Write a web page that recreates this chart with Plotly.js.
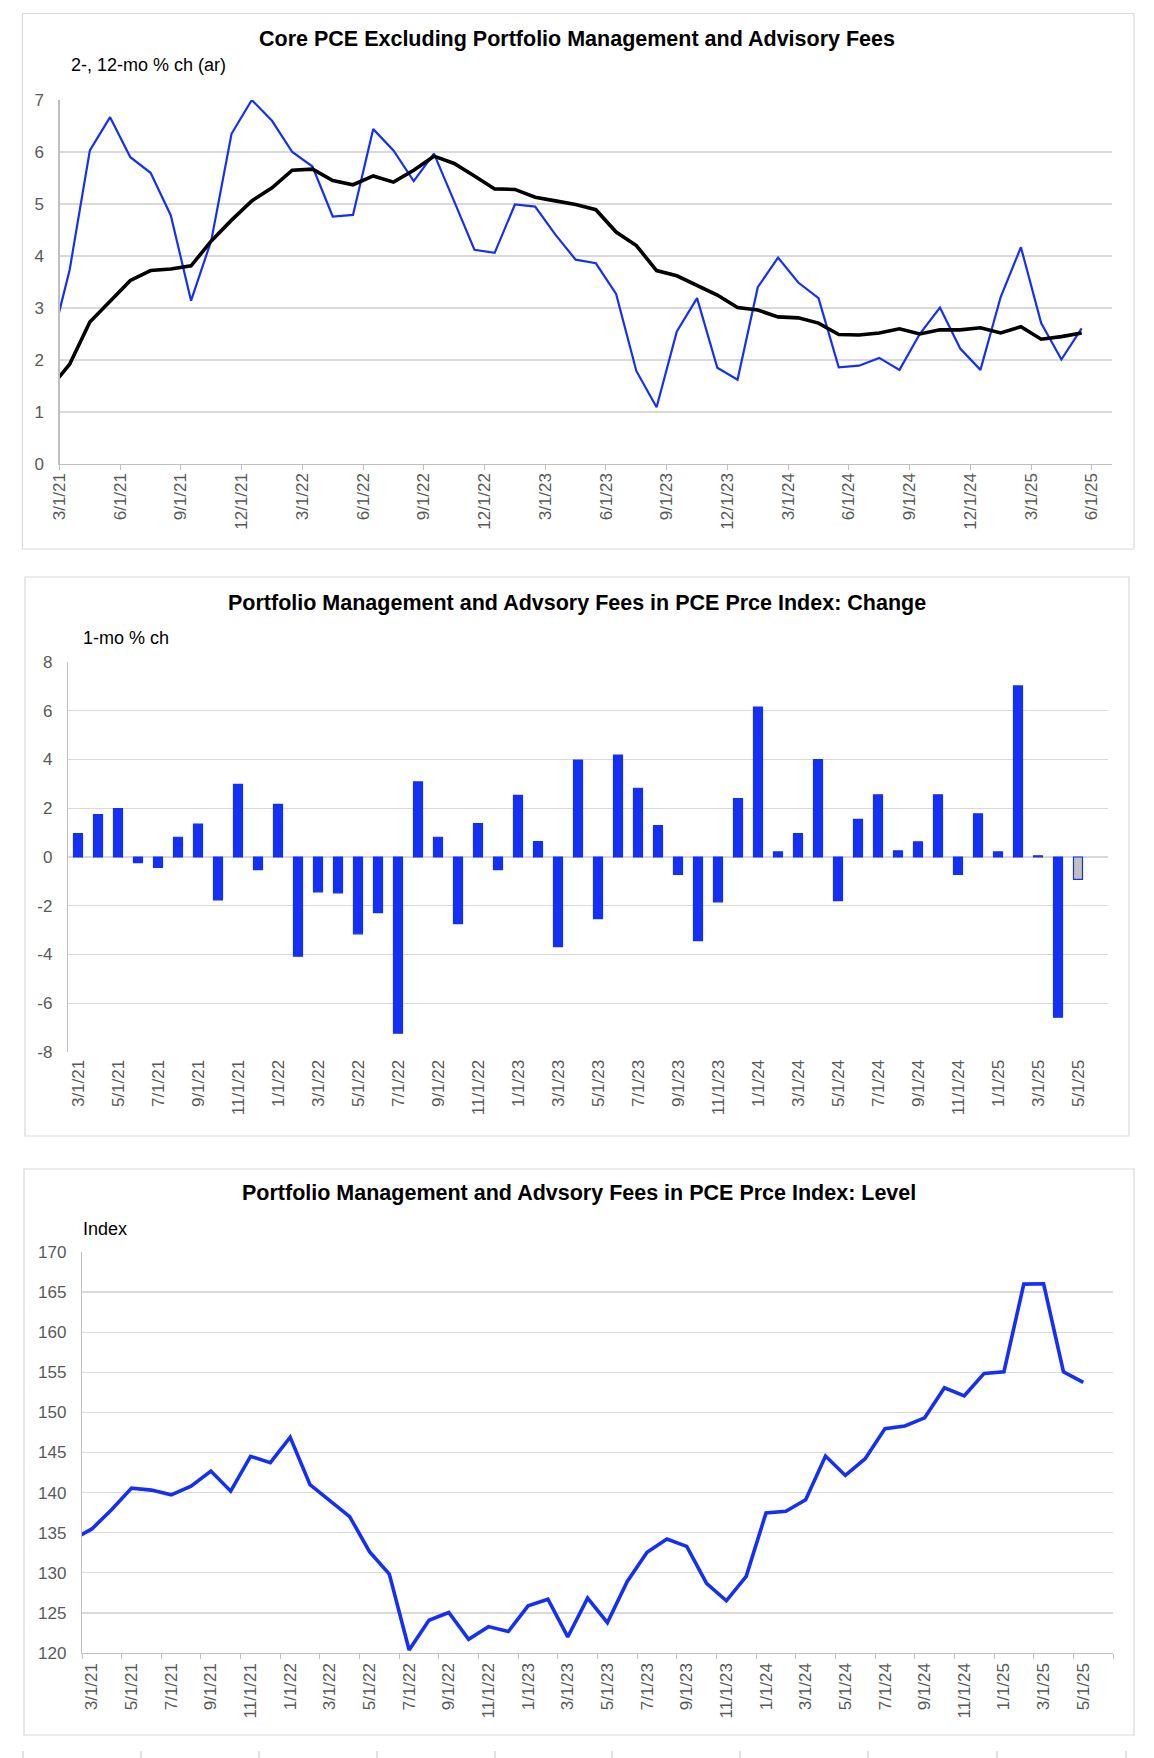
<!DOCTYPE html>
<html>
<head>
<meta charset="utf-8">
<script src="https://cdn.plot.ly/plotly-3.0.1.min.js"></script>
<style>
  body { margin: 0; background: #fff; }
  #chart { width: 1154px; height: 1758px; }
</style>
</head>
<body>
<div id="chart"></div>
<script>
// months, 2/1/21 .. 5/1/25 (feb 21 only feeds the clipped start of the lines)
var months = ['2/1/21','3/1/21','4/1/21','5/1/21','6/1/21','7/1/21','8/1/21','9/1/21','10/1/21','11/1/21','12/1/21',
  '1/1/22','2/1/22','3/1/22','4/1/22','5/1/22','6/1/22','7/1/22','8/1/22','9/1/22','10/1/22','11/1/22','12/1/22',
  '1/1/23','2/1/23','3/1/23','4/1/23','5/1/23','6/1/23','7/1/23','8/1/23','9/1/23','10/1/23','11/1/23','12/1/23',
  '1/1/24','2/1/24','3/1/24','4/1/24','5/1/24','6/1/24','7/1/24','8/1/24','9/1/24','10/1/24','11/1/24','12/1/24',
  '1/1/25','2/1/25','3/1/25','4/1/25','5/1/25'];

// top chart tick labels (quarter starts)
var quarterLabels = ['3/1/21','6/1/21','9/1/21','12/1/21','3/1/22','6/1/22','9/1/22','12/1/22','3/1/23','6/1/23',
  '9/1/23','12/1/23','3/1/24','6/1/24','9/1/24','12/1/24','3/1/25','6/1/25'];

// middle chart y ticks (plain hyphen, as in excel)
var changeTicks = [-8, -6, -4, -2, 0, 2, 4, 6, 8];
var changeTickText = ['-8', '-6', '-4', '-2', '0', '2', '4', '6', '8'];

// core pce ex portfolio mgmt, 2-mo % ch (ar)
var core2mo = [2.17, 3.73, 6.03, 6.67, 5.90, 5.60, 4.78, 3.14, 4.30, 6.35, 7.00,
  6.60, 6.00, 5.72, 4.76, 4.79, 6.44, 6.03, 5.44, 5.97, 5.05, 4.12, 4.06,
  4.99, 4.95, 4.41, 3.93, 3.86, 3.27, 1.79, 1.09, 2.55, 3.19, 1.85, 1.62,
  3.40, 3.97, 3.49, 3.19, 1.86, 1.89, 2.04, 1.81, 2.50, 3.01, 2.22, 1.81,
  3.21, 4.17, 2.71, 2.01, 2.61];

// core pce ex portfolio mgmt, 12-mo % ch
var core12mo = [1.44, 1.92, 2.73, 3.14, 3.53, 3.72, 3.75, 3.81, 4.29, 4.69, 5.06,
  5.31, 5.65, 5.67, 5.45, 5.37, 5.54, 5.42, 5.65, 5.92, 5.78, 5.54, 5.29,
  5.28, 5.13, 5.06, 4.99, 4.89, 4.46, 4.20, 3.72, 3.62, 3.43, 3.25, 3.01,
  2.96, 2.83, 2.81, 2.71, 2.49, 2.48, 2.52, 2.60, 2.50, 2.58, 2.58, 2.62,
  2.52, 2.64, 2.40, 2.45, 2.52];

// portfolio mgmt & advisory fees, 1-mo % ch
var feesChange = [null, 0.96, 1.74, 1.99, -0.23, -0.43, 0.81, 1.35, -1.76, 2.98, -0.52,
  2.16, -4.07, -1.43, -1.47, -3.15, -2.28, -7.23, 3.08, 0.81, -2.73, 1.37, -0.52,
  2.53, 0.63, -3.68, 3.98, -2.53, 4.18, 2.82, 1.29, -0.71, -3.43, -1.84, 2.40,
  6.15, 0.21, 0.96, 4.00, -1.79, 1.54, 2.55, 0.25, 0.62, 2.55, -0.71, 1.77,
  0.21, 7.02, 0.05, -6.57, -0.92];

// portfolio mgmt & advisory fees, index level
var feesLevel = [134.10, 135.47, 137.89, 140.56, 140.31, 139.72, 140.81, 142.69, 140.18, 144.52, 143.73,
  146.90, 140.98, 138.93, 137.01, 132.64, 129.84, 120.38, 124.09, 125.05, 121.71, 123.29, 122.67,
  125.88, 126.71, 122.00, 126.84, 123.79, 128.92, 132.55, 134.22, 133.30, 128.67, 126.51, 129.55,
  137.47, 137.68, 139.10, 144.56, 142.14, 144.23, 147.98, 148.31, 149.32, 153.07, 152.07, 154.86,
  155.07, 166.00, 166.04, 155.07, 153.74];

var W = 1154, H = 1758;
function px(x) { return x / W; }
function py(y) { return 1 - y / H; }

var BLUE = '#1530f5';
var GRID = '#d9d9d9';
var AXIS = '#bfbfbf';
var TICKFONT = { family: 'Liberation Sans, Arial, sans-serif', size: 17, color: '#595959' };

var idx = months.map(function (m, i) { return i; });
var xRange = [0.5, idx.length + 0.5];

// every other month labelled on the lower two charts, starting 3/1/21
var oddIdx = idx.filter(function (i) { return i % 2 === 1; });
var oddText = oddIdx.map(function (i) { return months[i]; });
var bounds = oddIdx.map(function (i) { return i - 0.5; }).concat([idx.length + 0.5]);
var quarterVals = quarterLabels.map(function (q, k) { return 0.5 + 3 * k; });

var barColors = feesChange.map(function (v, i) { return i === feesChange.length - 1 ? '#c0c0c0' : BLUE; });

var data = [
  { x: idx, y: core2mo, type: 'scatter', mode: 'lines', xaxis: 'x', yaxis: 'y',
    line: { color: BLUE, width: 2.2 } },
  { x: idx, y: core12mo, type: 'scatter', mode: 'lines', xaxis: 'x', yaxis: 'y',
    line: { color: '#000000', width: 3.6 } },
  { x: idx, y: feesChange, type: 'bar', xaxis: 'x2', yaxis: 'y2', width: 0.45,
    marker: { color: barColors, line: { color: BLUE, width: 1.2 } } },
  { x: idx, y: feesLevel, type: 'scatter', mode: 'lines', xaxis: 'x3', yaxis: 'y3',
    line: { color: BLUE, width: 3.6 } }
];

function yax(anchor, dom, range, dtick) {
  return {
    anchor: anchor, domain: dom, range: range, dtick: dtick, tick0: range[0], fixedrange: true,
    showgrid: true, gridcolor: GRID, gridwidth: 1.2, zeroline: false,
    showline: true, linecolor: AXIS, linewidth: 1.2,
    ticks: 'outside', ticklen: 11, tickcolor: 'rgba(0,0,0,0)',
    tickfont: TICKFONT
  };
}

var zeroPos = py((662 + 1052) / 2);

var yaxis2 = yax('x2', [py(1052), py(662)], [-8, 8], 2);
yaxis2.tickmode = 'array';
yaxis2.tickvals = changeTicks;
yaxis2.ticktext = changeTickText;

var layout = {
  width: W, height: H,
  margin: { l: 0, r: 0, t: 0, b: 0 },
  paper_bgcolor: '#ffffff', plot_bgcolor: '#ffffff',
  showlegend: false, hovermode: false,
  font: { family: 'Liberation Sans, Arial, sans-serif', color: '#000' },

  xaxis: {
    domain: [px(59.5), px(1112)], range: xRange, anchor: 'y',
    tickmode: 'array', tickvals: quarterVals, ticktext: quarterLabels,
    tickangle: -90, ticks: 'outside', ticklen: 5, tickcolor: AXIS, ticklabelstandoff: -4,
    showgrid: false, zeroline: false, showline: true, linecolor: AXIS, linewidth: 1.2,
    tickfont: TICKFONT
  },
  yaxis: yax('x', [py(464), py(100)], [0, 7], 1),

  xaxis2: {
    domain: [px(68), px(1108)], range: xRange, anchor: 'y2',
    tickmode: 'array', tickvals: oddIdx, ticktext: oddText,
    tickangle: -90, ticks: 'outside', ticklen: 3, tickcolor: 'rgba(0,0,0,0)', ticklabelstandoff: -3,
    showgrid: false, zeroline: false, showline: false,
    tickfont: TICKFONT
  },
  xaxis4: {
    overlaying: 'x2', anchor: 'free', position: zeroPos, range: xRange,
    tickmode: 'array', tickvals: bounds, ticks: 'outside', ticklen: 5, tickcolor: AXIS,
    showticklabels: false, showgrid: false, zeroline: false,
    showline: true, linecolor: GRID, linewidth: 1.5
  },
  yaxis2: yaxis2,

  xaxis3: {
    domain: [px(82), px(1113)], range: xRange, anchor: 'y3',
    tickmode: 'array', tickvals: oddIdx, ticktext: oddText,
    tickangle: -90, ticks: 'outside', ticklen: 5, tickcolor: 'rgba(0,0,0,0)', ticklabelstandoff: -3,
    minor: { tickmode: 'array', tickvals: bounds, ticks: 'outside', ticklen: 5, tickcolor: AXIS, showgrid: false },
    showgrid: false, zeroline: false, showline: true, linecolor: AXIS, linewidth: 1.2,
    tickfont: TICKFONT
  },
  yaxis3: yax('x3', [py(1653), py(1252)], [120, 170], 5),

  annotations: [
    { text: '<b>Core PCE Excluding Portfolio Management and Advisory Fees</b>', x: px(577), y: py(39.5),
      xref: 'paper', yref: 'paper', xanchor: 'center', yanchor: 'middle', showarrow: false,
      font: { size: 21.5, color: '#000' } },
    { text: '2-, 12-mo % ch (ar)', x: px(69), y: py(65), xref: 'paper', yref: 'paper',
      xanchor: 'left', yanchor: 'middle', showarrow: false, font: { size: 18, color: '#000' } },
    { text: '<b>Portfolio Management and Advsory Fees in PCE Prce Index: Change</b>', x: px(577), y: py(603),
      xref: 'paper', yref: 'paper', xanchor: 'center', yanchor: 'middle', showarrow: false,
      font: { size: 21.5, color: '#000' } },
    { text: '1-mo % ch', x: px(81), y: py(638), xref: 'paper', yref: 'paper',
      xanchor: 'left', yanchor: 'middle', showarrow: false, font: { size: 18, color: '#000' } },
    { text: '<b>Portfolio Management and Advsory Fees in PCE Prce Index: Level</b>', x: px(579), y: py(1193),
      xref: 'paper', yref: 'paper', xanchor: 'center', yanchor: 'middle', showarrow: false,
      font: { size: 21.5, color: '#000' } },
    { text: 'Index', x: px(81), y: py(1229), xref: 'paper', yref: 'paper',
      xanchor: 'left', yanchor: 'middle', showarrow: false, font: { size: 18, color: '#000' } }
  ],

  shapes: [
    { type: 'rect', xref: 'paper', yref: 'paper', x0: px(22.5), x1: px(1134), y0: py(549), y1: py(13.5),
      line: { color: GRID, width: 1.2 } },
    { type: 'rect', xref: 'paper', yref: 'paper', x0: px(25), x1: px(1129), y0: py(1136), y1: py(577),
      line: { color: GRID, width: 1.2 } },
    { type: 'rect', xref: 'paper', yref: 'paper', x0: px(24), x1: px(1134), y0: py(1735), y1: py(1169),
      line: { color: GRID, width: 1.2 } }
  ]
};

// top edge of the next (cut off) panel: short separators at the very bottom
[23, 141, 259, 377, 495, 612, 740, 868, 997, 1126].forEach(function (x) {
  layout.shapes.push({ type: 'line', xref: 'paper', yref: 'paper', x0: px(x), x1: px(x), y0: py(1758), y1: py(1751),
    line: { color: GRID, width: 1.5 } });
});

Plotly.newPlot('chart', data, layout, { displayModeBar: false, staticPlot: true });
</script>
</body>
</html>
